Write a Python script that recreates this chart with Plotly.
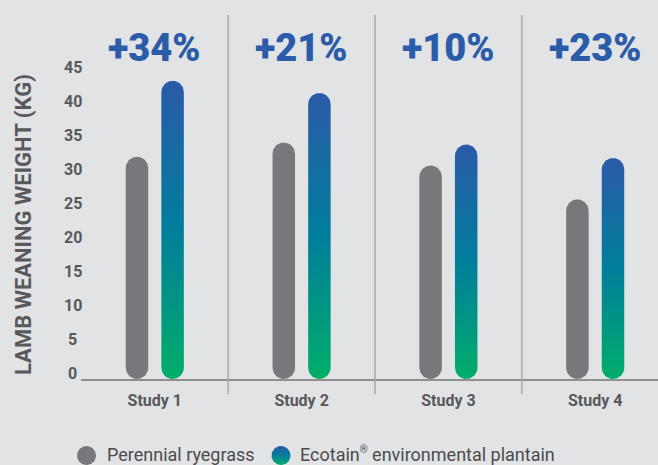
import numpy as np
import plotly.graph_objects as go

# ---- data -------------------------------------------------------------
studies = ["Study 1", "Study 2", "Study 3", "Study 4"]
ryegrass = [32.8, 34.9, 31.5, 26.5]      # Perennial ryegrass, kg
plantain = [44.0, 42.2, 34.6, 32.6]      # Ecotain environmental plantain, kg
y_ticks = [0, 5, 10, 15, 20, 25, 30, 35, 40, 45]

# ---- styling ----------------------------------------------------------
W, H = 658, 465
BG = "#e2e3e5"
GREY_BAR = "#77787b"
TEXT = "#58595b"
BLUE = "#2b5ca9"
DIVIDER = "#a9aaac"
GRADIENT = [[0.0, "#00ae6a"], [0.5, "#007e9b"], [1.0, "#2b5aa8"]]
FONT = "Roboto"

# plot box in pixels
left, right = 81.4, 658.0
top, base = 15.0, 379.0
cat_w = 146.8                 # px per category
px_per_kg = 305.0 / 45.0      # px per kg
bar_half = 11.25              # half bar width, px
bar_off = 17.8                # bar centre offset from category centre, px

x_range = [-0.5, -0.5 + (right - left) / cat_w]
y_range = [0, (base - top) / px_per_kg]


def pill(xc, value):
    """Outline of a bar with fully rounded ends, in data units."""
    hw = bar_half / cat_w
    ry = bar_half / px_per_kg
    tb = np.linspace(np.pi, 2 * np.pi, 40)
    tt = np.linspace(0, np.pi, 40)
    xs = np.concatenate([xc + hw * np.cos(tb), xc + hw * np.cos(tt)])
    ys = np.concatenate([ry + ry * np.sin(tb), (value - ry) + ry * np.sin(tt)])
    xs = np.append(xs, xs[0])
    ys = np.append(ys, ys[0])
    return xs, ys


fig = go.Figure()

off = bar_off / cat_w
for i in range(len(studies)):
    xs, ys = pill(i - off, ryegrass[i])
    fig.add_trace(go.Scatter(x=xs, y=ys, mode="lines", fill="toself",
                             line=dict(width=0), fillcolor=GREY_BAR,
                             hoverinfo="skip", showlegend=False))
    xs, ys = pill(i + off, plantain[i])
    fig.add_trace(go.Scatter(x=xs, y=ys, mode="lines", fill="toself",
                             line=dict(width=0),
                             fillgradient=dict(type="vertical", colorscale=GRADIENT),
                             hoverinfo="skip", showlegend=False))

# ---- legend swatches on a full-figure pixel axis -----------------------
def circle(cx, cy, r):
    t = np.linspace(0, 2 * np.pi, 80)
    return cx + r * np.cos(t), cy + r * np.sin(t)

lx, ly = circle(86.5, H - 455.5, 9.5)
fig.add_trace(go.Scatter(x=lx, y=ly, xaxis="x2", yaxis="y2", mode="lines",
                         fill="toself", line=dict(width=0), fillcolor=GREY_BAR,
                         hoverinfo="skip", showlegend=False))
lx, ly = circle(281.0, H - 455.5, 9.5)
fig.add_trace(go.Scatter(x=lx, y=ly, xaxis="x2", yaxis="y2", mode="lines",
                         fill="toself", line=dict(width=0),
                         fillgradient=dict(type="vertical", colorscale=GRADIENT),
                         hoverinfo="skip", showlegend=False))

# ---- annotations --------------------------------------------------------
ann = []
for v in y_ticks:
    ann.append(dict(x=72.5 / W, xref="paper", y=v, yref="y", yshift=6,
                    text=str(v), showarrow=False, xanchor="center", yanchor="middle",
                    font=dict(family=FONT, size=16, color=TEXT, weight=700)))

ann.append(dict(x=23.5 / W, xref="paper", y=(H - 224.5) / H, yref="paper",
                text="LAMB WEANING WEIGHT (KG)", textangle=-90, showarrow=False,
                xanchor="center", yanchor="middle",
                font=dict(family=FONT, size=22, color=TEXT, weight=700)))

for i in range(len(studies)):
    pct = round((plantain[i] / ryegrass[i] - 1) * 100)
    ann.append(dict(x=i, xref="x", y=(H - 47.5) / H, yref="paper",
                    text=f"+{pct}%", showarrow=False, xanchor="center", yanchor="middle",
                    font=dict(family=FONT, size=38, color=BLUE, weight=900)))

ann.append(dict(x=105 / W, xref="paper", y=(H - 454) / H, yref="paper",
                text="Perennial ryegrass", showarrow=False, xanchor="left", yanchor="middle",
                font=dict(family=FONT, size=18, color="#4b4b4d")))
ann.append(dict(x=298 / W, xref="paper", y=(H - 454) / H, yref="paper",
                text="Ecotain<sup><span style='font-size:10px'>®</span></sup> environmental plantain",
                showarrow=False, xanchor="left", yanchor="middle",
                font=dict(family=FONT, size=18, color="#4b4b4d")))

# ---- category dividers ---------------------------------------------------
shapes = []
for i in range(len(studies) - 1):
    shapes.append(dict(type="line", xref="x", yref="paper", x0=i + 0.5, x1=i + 0.5,
                       y0=(H - 394) / H, y1=(H - top) / H,
                       line=dict(color=DIVIDER, width=1.5)))

fig.update_layout(
    width=W, height=H,
    margin=dict(l=0, r=0, t=0, b=0),
    paper_bgcolor=BG, plot_bgcolor="rgba(0,0,0,0)",
    showlegend=False,
    xaxis=dict(domain=[left / W, 1], range=x_range, tickvals=list(range(len(studies))),
               ticktext=studies, showline=True, linecolor="#8e8f91", linewidth=1.5,
               ticks="", showgrid=False, zeroline=False, fixedrange=True,
               ticklabelstandoff=6,
               tickfont=dict(family=FONT, size=16, color=TEXT, weight=700)),
    yaxis=dict(domain=[(H - base) / H, (H - top) / H], range=y_range,
               showticklabels=False, showgrid=False, zeroline=False, fixedrange=True),
    xaxis2=dict(domain=[0, 1], range=[0, W], visible=False, anchor="y2", fixedrange=True),
    yaxis2=dict(domain=[0, 1], range=[0, H], visible=False, anchor="x2", fixedrange=True),
    annotations=ann,
    shapes=shapes,
)

fig.write_html("out.html")
